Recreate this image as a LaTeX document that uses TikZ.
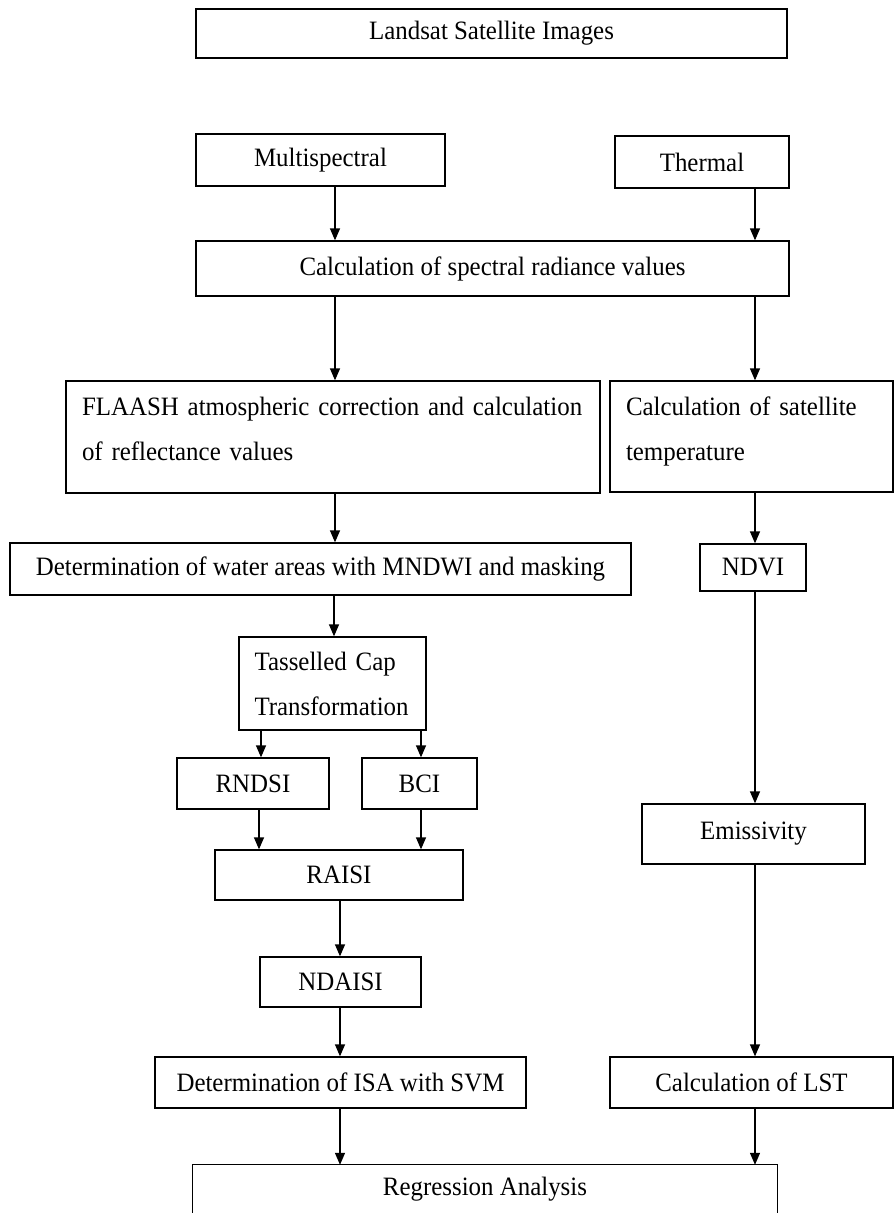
\documentclass[tikz,border=0pt]{standalone}
\usepackage{fontspec}
\setmainfont[FakeStretch=0.94]{Liberation Serif}
\usetikzlibrary{arrows.meta}
\begin{document}
\begin{tikzpicture}[x=1pt,y=-1pt,
  box/.style={draw,line width=1.3pt,inner sep=0pt,font=\fontsize{26.5}{45}\selectfont},
  openbox/.style={inner sep=0pt,font=\fontsize{26.5}{45}\selectfont},
  arr/.style={line width=1.3pt,-{Triangle[length=12pt,width=10pt]}}]
\useasboundingbox (0,0) rectangle (896,1213);
\fill[white] (0,0) rectangle (896,1213);
% boxes
\node[box,minimum width=591pt,minimum height=49pt] (land) at (491.5,33.5) {Landsat Satellite Images};
\node[box,minimum width=249pt,minimum height=52pt] (ms) at (320.5,160) {Multispectral};
\node[box,minimum width=174pt,minimum height=52pt] (th) at (702,162) {Thermal};
\node[box,minimum width=593pt,minimum height=55pt] (spec) at (492.5,268.5) {Calculation of spectral radiance values};
\node[box,minimum width=534pt,minimum height=112pt,text width=502pt,align=left,text depth=61pt] (fla) at (333,437)
  {\makebox[\linewidth][s]{FLAASH atmospheric correction and calculation}\\of reflectance values};
\node[box,minimum width=283pt,minimum height=111pt,text width=251pt,align=left,text depth=61pt] (sat) at (751.5,436.5)
  {Calculation of satellite\\temperature};
\node[box,minimum width=621pt,minimum height=52pt] (water) at (320.5,569) {Determination of water areas with MNDWI and masking};
\node[box,minimum width=106pt,minimum height=47pt] (ndvi) at (753,567.5) {NDVI};
\node[box,minimum width=187pt,minimum height=93pt,text width=156pt,align=left] (tc) at (332.5,683.5)
  {\makebox[\linewidth][s]{Tasselled Cap}\\Transformation};
\node[box,minimum width=152pt,minimum height=51pt] (rndsi) at (253,783.5) {RNDSI};
\node[box,minimum width=115pt,minimum height=51pt] (bci) at (419.5,783.5) {BCI};
\node[box,minimum width=248pt,minimum height=50pt] (raisi) at (339,875) {RAISI};
\node[box,minimum width=223pt,minimum height=60pt] (emis) at (753.5,834) {Emissivity};
\node[box,minimum width=161pt,minimum height=50pt] (ndaisi) at (340.5,982) {NDAISI};
\node[box,minimum width=371pt,minimum height=51pt] (isa) at (340.5,1082.5) {Determination of ISA with SVM};
\node[box,minimum width=283pt,minimum height=51pt] (lst) at (751.5,1082.5) {Calculation of LST};
\node[openbox,minimum width=584pt,minimum height=48pt] (reg) at (485,1189) {Regression Analysis};
\draw[line width=1.3pt] (reg.south west) -- (reg.north west) -- (reg.north east) -- (reg.south east);
% x positions of connectors
\coordinate (xl) at (335,0);
\coordinate (xr) at (755,0);
\coordinate (xw) at (334,0);
\coordinate (xt1) at (261,0);
\coordinate (xt2) at (421,0);
\coordinate (xr1) at (259,0);
\coordinate (xn) at (340,0);
% connectors
\draw[arr] (ms.south -| xl) -- (spec.north -| xl);
\draw[arr] (th.south -| xr) -- (spec.north -| xr);
\draw[arr] (spec.south -| xl) -- (fla.north -| xl);
\draw[arr] (spec.south -| xr) -- (sat.north -| xr);
\draw[arr] (fla.south -| xl) -- (water.north -| xl);
\draw[arr] (sat.south -| xr) -- (ndvi.north -| xr);
\draw[arr] (water.south -| xw) -- (tc.north -| xw);
\draw[arr] (tc.south -| xt1) -- (rndsi.north -| xt1);
\draw[arr] (tc.south -| xt2) -- (bci.north -| xt2);
\draw[arr] (rndsi.south -| xr1) -- (raisi.north -| xr1);
\draw[arr] (bci.south -| xt2) -- (raisi.north -| xt2);
\draw[arr] (raisi.south -| xn) -- (ndaisi.north -| xn);
\draw[arr] (ndvi.south -| xr) -- (emis.north -| xr);
\draw[arr] (ndaisi.south -| xn) -- (isa.north -| xn);
\draw[arr] (emis.south -| xr) -- (lst.north -| xr);
\draw[arr] (isa.south -| xn) -- (reg.north -| xn);
\draw[arr] (lst.south -| xr) -- (reg.north -| xr);
\end{tikzpicture}
\end{document}
